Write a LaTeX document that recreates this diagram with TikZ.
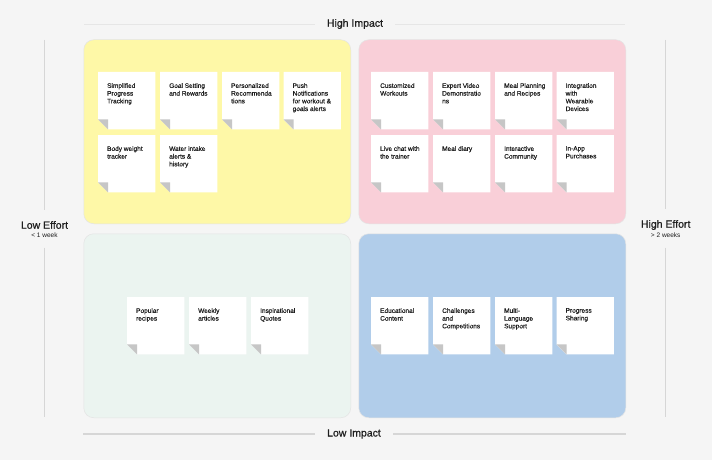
\documentclass[tikz,border=0pt]{standalone}
\usepackage{fontspec}
\setmainfont{Liberation Sans}
\newfontfamily\labfont[FakeBold=0.7]{Liberation Sans}
\newfontfamily\stfont[FakeBold=0.25]{Liberation Sans}
\definecolor{bgc}{HTML}{F5F5F5}
\definecolor{qyellow}{HTML}{FEF8A7}
\definecolor{qpink}{HTML}{F9CFD8}
\definecolor{qgreen}{HTML}{EBF4F0}
\definecolor{qblue}{HTML}{B1CDEA}
\definecolor{foldgray}{HTML}{C6C6C6}
\definecolor{txtc}{HTML}{1E1E1E}
\definecolor{axisc}{HTML}{D6D6D6}
\definecolor{toplinec}{HTML}{E6E6E6}
\definecolor{quadline}{HTML}{E4E4E4}
\tikzset{
  quad/.style={rectangle, rounded corners=10pt, anchor=north west, minimum width=267pt, minimum height=184pt, inner sep=0pt, draw=quadline, line width=0.5pt},
  stbox/.style={rectangle, anchor=north west, minimum width=57pt, minimum height=57pt, inner sep=0pt, draw=none},
  sttxt/.style={anchor=north west, inner sep=0pt, align=left, text=txtc, font=\stfont\fontsize{6.5}{7.7}\selectfont},
  axlabel/.style={text=txtc, font=\labfont\fontsize{10.5}{12}\selectfont, inner ysep=0pt},
  axsub/.style={text=txtc, font=\fontsize{6.5}{8}\selectfont, inner ysep=0pt},
  axisline/.style={draw=axisc, line width=1.3pt},
  topline/.style={draw=toplinec, line width=0.9pt},
}
\newcommand\mystk[4]{%
  \node[stbox] (#1) at (#2,#3) {};
  \fill[white] (#1.north west) -- (#1.north east) -- (#1.south east) -- ([xshift=10pt]#1.south west) -- ([yshift=10pt]#1.south west) -- cycle;
  \fill[foldgray] ([yshift=10pt]#1.south west) -- ([xshift=10pt,yshift=10pt]#1.south west) -- ([xshift=10pt]#1.south west) -- cycle;
  \node[sttxt] (#1t) at ([xshift=9pt,yshift=-11pt]#1.north west) {#4};
}
\begin{document}
\begin{tikzpicture}[x=1pt,y=-1pt]
\useasboundingbox[fill=bgc] (0,0) rectangle (712,460);

% quadrants
\node[quad, fill=qyellow] (qy) at (83.5,39.5) {};
\node[quad, fill=qpink] (qp) at (358.5,39.5) {};
\node[quad, fill=qgreen] (qg) at (83.5,233.5) {};
\node[quad, fill=qblue] (qb) at (358.5,233.5) {};

% axis labels
\node[axlabel, inner xsep=12pt] (hi) at (355,24) {High Impact};
\node[axlabel, inner xsep=12pt] (lo) at (354,434) {Low Impact};
\node[axlabel, inner ysep=11pt] (le) at (44.5,225) {Low Effort};
\node[axsub, inner ysep=10pt] (lew) at (44.5,235) {< 1 week};
\node[axlabel, inner ysep=11pt] (he) at (665.7,225) {High Effort};
\node[axsub, inner ysep=10pt] (hew) at (665.7,235) {> 2 weeks};

\coordinate (hiL) at (84,24);
\coordinate (hiR) at (625,24);
\coordinate (loL) at (83,434);
\coordinate (loR) at (625.5,434);
\coordinate (leT) at (44.5,40);
\coordinate (leB) at (44.5,417);
\coordinate (heT) at (665.7,40);
\coordinate (heB) at (665.7,417);

\draw[topline] (hiL) -- (hi.west);
\draw[topline] (hi.east) -- (hiR);
\draw[axisline] (loL) -- (lo.west);
\draw[axisline] (lo.east) -- (loR);
\draw[axisline] (leT) -- (le.north);
\draw[axisline] (lew.south) -- (leB);
\draw[axisline] (heT) -- (he.north);
\draw[axisline] (hew.south) -- (heB);

% yellow stickies
\mystk{y1}{98}{72}{Simplified\\Progress\\Tracking}
\mystk{y2}{160}{72}{Goal Setting\\and Rewards}
\mystk{y3}{222}{72}{Personalized\\Recommenda\\tions}
\mystk{y4}{283.5}{72}{Push\\Notifications\\for workout \&\\goals alerts}
\mystk{y5}{98}{135}{Body weight\\tracker}
\mystk{y6}{160}{135}{Water intake\\alerts \&\\history}

% pink stickies
\mystk{p1}{371}{72}{Customized\\Workouts}
\mystk{p2}{433}{72}{Expert Video\\Demonstratio\\ns}
\mystk{p3}{495}{72}{Meal Planning\\and Recipes}
\mystk{p4}{556.5}{72}{Integration\\with\\Wearable\\Devices}
\mystk{p5}{371}{135}{Live chat with\\the trainer}
\mystk{p6}{433}{135}{Meal diary}
\mystk{p7}{495}{135}{Interactive\\Community}
\mystk{p8}{556.5}{135}{In-App\\Purchases}

% green stickies
\mystk{g1}{127}{297}{Popular\\recipes}
\mystk{g2}{189}{297}{Weekly\\articles}
\mystk{g3}{251}{297}{Inspirational\\Quotes}

% blue stickies
\mystk{b1}{371}{297}{Educational\\Content}
\mystk{b2}{433}{297}{Challenges\\and\\Competitions}
\mystk{b3}{495}{297}{Multi-\\Language\\Support}
\mystk{b4}{556.5}{297}{Progress\\Sharing}
\end{tikzpicture}
\end{document}
